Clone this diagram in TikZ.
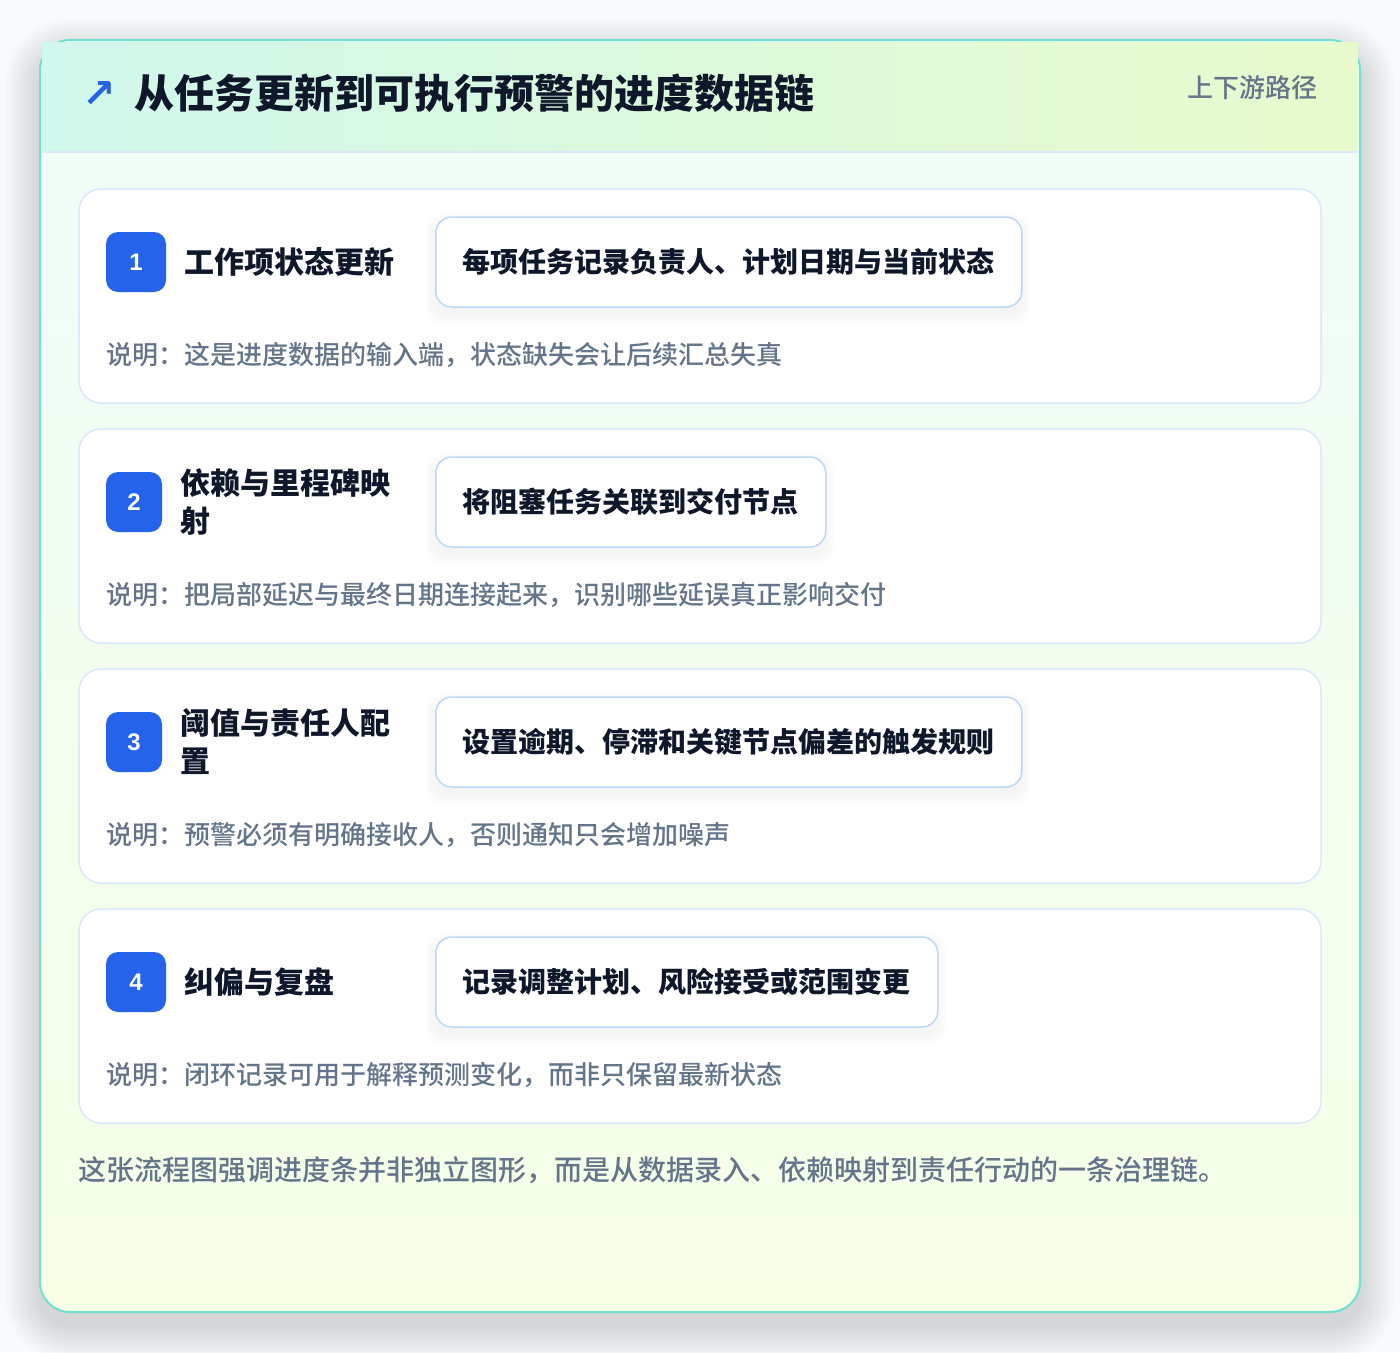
\documentclass[tikz,border=0pt]{standalone}
\usepackage{fontspec}
\setmainfont{Noto Sans CJK SC}
\newfontfamily\medfont{Noto Sans CJK SC Medium}
\newfontfamily\symfont{DejaVu Sans}
\newfontfamily\numfont{Liberation Sans}
\usetikzlibrary{positioning}

\definecolor{pagebg}{HTML}{F9FAFB}
\definecolor{tealline}{HTML}{6EE2CF}
\definecolor{headleft}{HTML}{D0F8EC}
\definecolor{headright}{HTML}{E8FACC}
\definecolor{bodytop}{HTML}{EFFDF9}
\definecolor{bodybot}{HTML}{F6FEE6}
\definecolor{cardline}{HTML}{DCE8FA}
\definecolor{pillline}{HTML}{BFD7F6}
\definecolor{inkdark}{HTML}{0F172A}
\definecolor{inkgray}{HTML}{64748B}
\definecolor{badgeblue}{HTML}{2563EB}

\tikzset{
  stepcard/.style={draw=cardline, line width=1.5pt, fill=white, rounded corners=22pt,
    minimum width=1242pt, minimum height=214pt, inner sep=0pt},
  badge/.style={fill=badgeblue, text=white, rounded corners=12pt, minimum width=60pt,
    minimum height=60pt, inner sep=0pt, font=\numfont\bfseries\fontsize{24}{26}\selectfont},
  steptitle/.style={right=18pt of #1, text=inkdark, inner sep=0pt, align=left,
    font=\bfseries\fontsize{30}{38}\selectfont},
  pill/.style={draw=pillline, line width=1.5pt, fill=white, rounded corners=16pt,
    minimum height=90pt, inner xsep=27pt, inner ysep=0pt, anchor=west, text=inkdark,
    font=\bfseries\fontsize{28}{34}\selectfont},
  note/.style={anchor=west, inner sep=0pt, text=inkgray, font=\medfont\fontsize{26}{32}\selectfont},
}

\begin{document}
\begin{tikzpicture}[x=1pt, y=-1pt]
  \useasboundingbox[fill=pagebg] (0,0) rectangle (1400,1352);

  % soft shadow under the panel
  \foreach \s [evaluate=\s as \r using 30+\s] in {1,...,36}
    \fill[black, opacity=0.002, rounded corners=\r pt] (40-\s,54-\s) rectangle (1360+\s,1326+\s);

  % panel and header band
  \draw[tealline, line width=2pt, rounded corners=30pt, top color=bodytop, bottom color=bodybot]
    (40,40) rectangle (1360,1312);
  \shade[left color=headleft, right color=headright] (42,42) rectangle (1358,152);
  \draw[cardline, line width=2pt] (42,152) -- (1358,152);

  \node[text=badgeblue, inner sep=0pt, font=\symfont\bfseries\fontsize{40}{44}\selectfont] (arrow) at (99,94) {↗};
  \node[anchor=west, inner sep=0pt, text=inkdark, font=\bfseries\fontsize{40}{48}\selectfont] (title) at (134,93)
    {从任务更新到可执行预警的进度数据链};
  \node[anchor=east, inner sep=0pt, text=inkgray, font=\medfont\fontsize{26}{30}\selectfont] (route) at (1318,88)
    {上下游路径};

  % step cards
  \foreach \cy in {296,536,776,1016}
    \node[stepcard] at (700,\cy) {};

  % pill shadows
  \foreach \cy/\w in {262/586,502/390,742/586,982/502}
    \foreach \s in {1,...,10}
      \fill[black, opacity=0.003, rounded corners=16pt] (435-\s,\cy-45+6-\s) rectangle (435+\w+\s,\cy+45+8+\s);

  % step 1
  \node[badge] (num1) at (136,262) {1};
  \node[steptitle=num1] (title1) {工作项状态更新};
  \node[pill] (pill1) at (435,262) {每项任务记录负责人、计划日期与当前状态};
  \node[note] (note1) at (106,355) {说明：这是进度数据的输入端，状态缺失会让后续汇总失真};

  % step 2
  \node[badge, minimum width=56pt] (num2) at (134,502) {2};
  \node[steptitle=num2] (title2) {依赖与里程碑映\\射};
  \node[pill] (pill2) at (435,502) {将阻塞任务关联到交付节点};
  \node[note] (note2) at (106,595) {说明：把局部延迟与最终日期连接起来，识别哪些延误真正影响交付};

  % step 3
  \node[badge, minimum width=56pt] (num3) at (134,742) {3};
  \node[steptitle=num3] (title3) {阈值与责任人配\\置};
  \node[pill] (pill3) at (435,742) {设置逾期、停滞和关键节点偏差的触发规则};
  \node[note] (note3) at (106,835) {说明：预警必须有明确接收人，否则通知只会增加噪声};

  % step 4
  \node[badge] (num4) at (136,982) {4};
  \node[steptitle=num4] (title4) {纠偏与复盘};
  \node[pill] (pill4) at (435,982) {记录调整计划、风险接受或范围变更};
  \node[note] (note4) at (106,1075) {说明：闭环记录可用于解释预测变化，而非只保留最新状态};

  \node[anchor=west, inner sep=0pt, text=inkgray, font=\medfont\fontsize{28}{34}\selectfont] (summary) at (78,1170)
    {这张流程图强调进度条并非独立图形，而是从数据录入、依赖映射到责任行动的一条治理链。};
\end{tikzpicture}
\end{document}
